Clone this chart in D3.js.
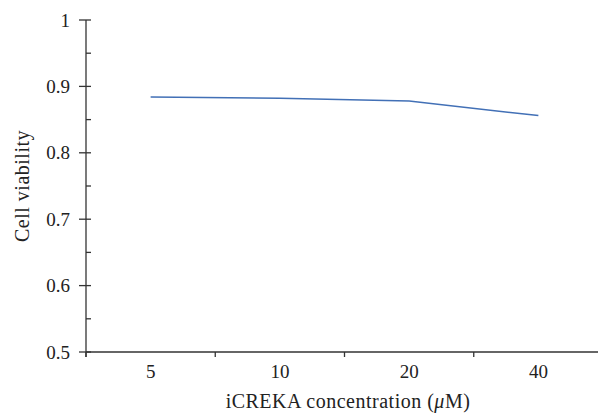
<!DOCTYPE html>
<html>
<head>
<meta charset="utf-8">
<script src="https://cdn.jsdelivr.net/npm/d3@7"></script>
<style>
  body { margin: 0; background: #fff; }
  svg { display: block; }
  text { font-family: "Liberation Serif", "DejaVu Serif", serif; fill: #222; }
</style>
</head>
<body>
<div id="chart"></div>
<script>
var categories = ["5", "10", "20", "40"];
var viability = [0.884, 0.882, 0.878, 0.856];
var yTicks = [0.5, 0.6, 0.7, 0.8, 0.9, 1];
var yMinorTicks = [0.55, 0.65, 0.75, 0.85, 0.95];

var width = 598, height = 414;
var margin = {left: 86, top: 20, right: -5, bottom: 62};

var svg = d3.select("#chart").append("svg")
  .attr("width", width)
  .attr("height", height);

var x = d3.scaleBand()
  .domain(categories)
  .range([margin.left, width - margin.right]);

var y = d3.scaleLinear()
  .domain([0.5, 1])
  .range([height - margin.bottom, margin.top]);

var axisColor = "#333";

// y axis
var gy = svg.append("g");
gy.append("line")
  .attr("x1", margin.left).attr("x2", margin.left)
  .attr("y1", y(1)).attr("y2", y(0.5) + 5)
  .attr("stroke", axisColor).attr("stroke-width", 1.3);
gy.selectAll(".major").data(yTicks).enter().append("line")
  .attr("x1", margin.left - 7).attr("x2", margin.left + 5)
  .attr("y1", function(d){ return y(d); })
  .attr("y2", function(d){ return y(d); })
  .attr("stroke", axisColor).attr("stroke-width", 1.3);
gy.selectAll(".minor").data(yMinorTicks).enter().append("line")
  .attr("x1", margin.left).attr("x2", margin.left + 5)
  .attr("y1", function(d){ return y(d); })
  .attr("y2", function(d){ return y(d); })
  .attr("stroke", axisColor).attr("stroke-width", 1.3);
gy.selectAll("text").data(yTicks).enter().append("text")
  .attr("x", margin.left - 16)
  .attr("y", function(d){ return y(d); })
  .attr("dy", "0.35em")
  .attr("text-anchor", "end")
  .style("font-size", "19px")
  .text(function(d){ return d === 1 ? "1" : d3.format(".1f")(d); });

// x axis
var gx = svg.append("g");
gx.append("line")
  .attr("x1", margin.left).attr("x2", width)
  .attr("y1", y(0.5)).attr("y2", y(0.5))
  .attr("stroke", axisColor).attr("stroke-width", 1.3);
gx.selectAll(".tick").data(categories).enter().append("line")
  .attr("x1", function(d){ return x(d); })
  .attr("x2", function(d){ return x(d); })
  .attr("y1", y(0.5)).attr("y2", y(0.5) + 5)
  .attr("stroke", axisColor).attr("stroke-width", 1.3);
gx.selectAll("text").data(categories).enter().append("text")
  .attr("x", function(d){ return x(d) + x.bandwidth() / 2; })
  .attr("y", y(0.5) + 26)
  .attr("text-anchor", "middle")
  .style("font-size", "19px")
  .text(function(d){ return d; });

// line
var line = d3.line()
  .x(function(d, i){ return x(categories[i]) + x.bandwidth() / 2; })
  .y(function(d){ return y(d); });

svg.append("path")
  .datum(viability)
  .attr("d", line)
  .attr("fill", "none")
  .attr("stroke", "#4270b6")
  .attr("stroke-width", 1.5);

// titles
svg.append("text")
  .attr("transform", "translate(29," + ((y(1) + y(0.5)) / 2) + ") rotate(-90)")
  .attr("text-anchor", "middle")
  .style("font-size", "20px")
  .style("letter-spacing", "0.5px")
  .text("Cell viability");

var xt = svg.append("text")
  .attr("x", 348)
  .attr("y", 408)
  .attr("text-anchor", "middle")
  .style("font-size", "20px")
  .style("letter-spacing", "0.5px");
xt.append("tspan").text("iCREKA concentration (");
xt.append("tspan").style("font-style", "italic").text("μ");
xt.append("tspan").text("M)");
</script>
</body>
</html>
